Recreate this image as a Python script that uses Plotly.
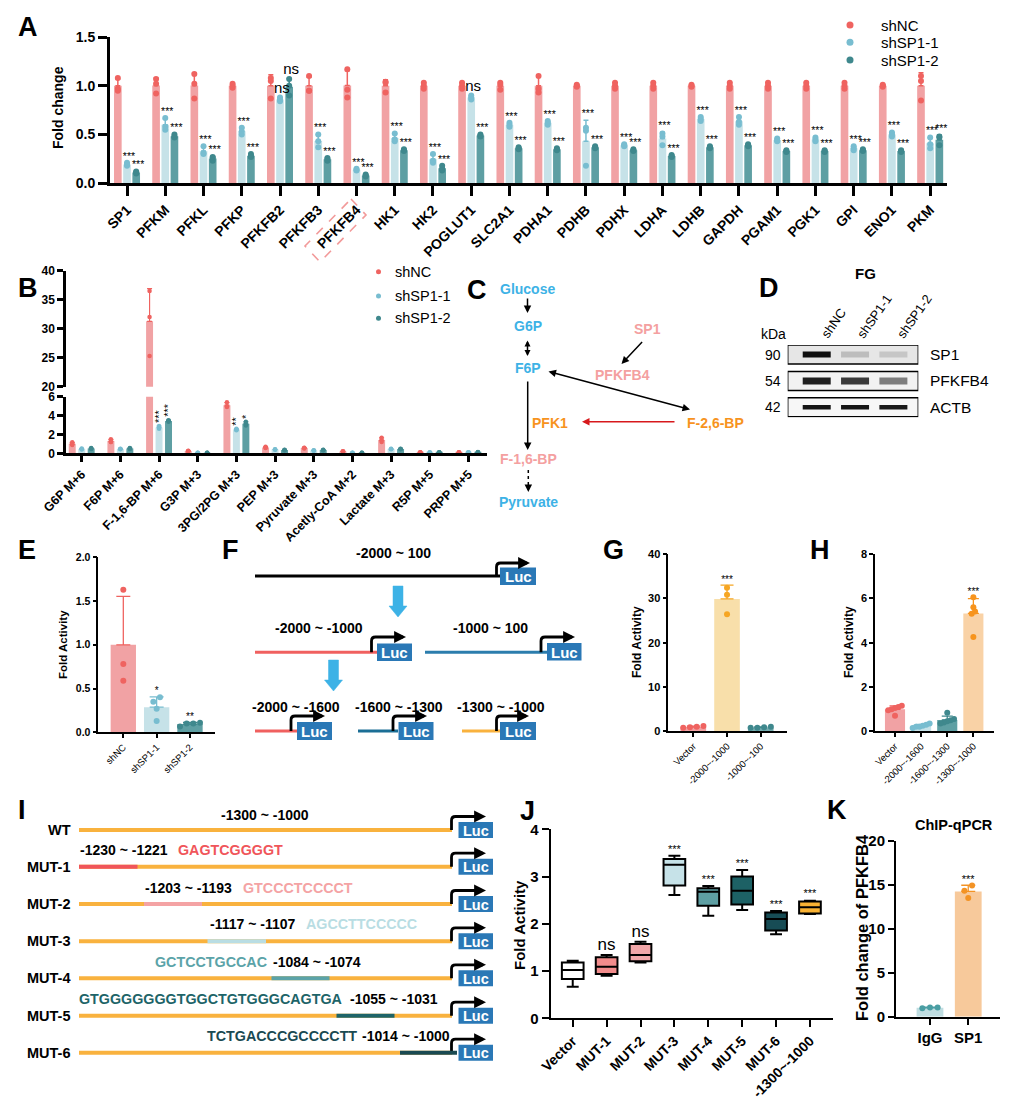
import numpy as np
import plotly.graph_objects as go

W, H = 1010, 1101
FONT = "Liberation Sans, Arial, Helvetica, sans-serif"

# ======================= DATA =======================
series_names = ["shNC", "shSP1-1", "shSP1-2"]

# ---- Panel A (qPCR fold change, 3 replicates each) ----
genes_A = ["SP1", "PFKM", "PFKL", "PFKP", "PFKFB2", "PFKFB3", "PFKFB4", "HK1", "HK2",
           "POGLUT1", "SLC2A1", "PDHA1", "PDHB", "PDHX", "LDHA", "LDHB", "GAPDH",
           "PGAM1", "PGK1", "GPI", "ENO1", "PKM"]
a_shNC = [[1.08, 0.97, 0.95], [1.07, 1.02, 0.92], [1.12, 1.02, 0.87], [1.02, 1.00, 0.98],
          [1.08, 1.05, 0.87], [1.10, 0.95, 0.95], [1.17, 0.96, 0.88], [1.04, 1.03, 0.93],
          [1.03, 1.00, 0.97], [1.03, 1.00, 0.97], [1.03, 1.01, 0.96], [1.10, 0.97, 0.93],
          [1.01, 1.00, 0.99], [1.03, 1.00, 0.97], [1.03, 1.00, 0.97], [1.01, 1.00, 0.99],
          [1.03, 1.00, 0.97], [1.03, 1.00, 0.97], [1.03, 1.00, 0.97], [1.03, 1.00, 0.97],
          [1.01, 1.00, 0.99], [1.10, 1.05, 0.85]]
a_shSP1_1 = [[0.21, 0.19, 0.18], [0.67, 0.58, 0.55], [0.38, 0.31, 0.30], [0.57, 0.53, 0.50],
             [0.88, 0.86, 0.84], [0.50, 0.43, 0.37], [0.15, 0.14, 0.13], [0.51, 0.45, 0.43],
             [0.30, 0.23, 0.21], [0.90, 0.88, 0.86], [0.62, 0.60, 0.58], [0.64, 0.62, 0.60],
             [0.57, 0.54, 0.18], [0.40, 0.39, 0.38], [0.51, 0.48, 0.39], [0.68, 0.66, 0.64],
             [0.68, 0.63, 0.60], [0.46, 0.44, 0.43], [0.47, 0.45, 0.43], [0.38, 0.36, 0.34],
             [0.52, 0.50, 0.48], [0.47, 0.40, 0.36]]
a_shSP1_2 = [[0.12, 0.11, 0.10], [0.50, 0.48, 0.47], [0.27, 0.26, 0.23], [0.30, 0.28, 0.27],
             [1.07, 1.00, 0.90], [0.26, 0.25, 0.23], [0.09, 0.08, 0.07], [0.35, 0.34, 0.33],
             [0.18, 0.15, 0.13], [0.50, 0.49, 0.48], [0.37, 0.36, 0.35], [0.36, 0.35, 0.34],
             [0.38, 0.37, 0.36], [0.35, 0.34, 0.33], [0.29, 0.28, 0.27], [0.38, 0.37, 0.36],
             [0.40, 0.39, 0.38], [0.34, 0.33, 0.32], [0.34, 0.33, 0.32], [0.35, 0.34, 0.33],
             [0.34, 0.33, 0.32], [0.48, 0.47, 0.39]]
sig_A_1 = ["***", "***", "***", "***", "ns", "***", "***", "***", "***", "ns", "***",
           "***", "***", "***", "***", "***", "***", "***", "***", "***", "***", "***"]
sig_A_2 = ["***", "***", "***", "***", "ns", "***", "***", "***", "***", "***", "***",
           "***", "***", "***", "***", "***", "***", "***", "***", "***", "***", "***"]

# ---- Panel B (isotope tracing, broken axis) ----
mets_B = ["G6P M+6", "F6P M+6", "F-1,6-BP M+6", "G3P M+3", "3PG/2PG M+3", "PEP M+3",
          "Pyruvate M+3", "Acetly-CoA M+2", "Lactate M+3", "R5P M+5", "PRPP M+5"]
b_shNC = [[1.17, 0.95, 0.88], [1.50, 1.20, 1.20], [36.5, 32.0, 25.3], [0.28, 0.25, 0.22],
          [5.40, 5.00, 4.90], [0.70, 0.60, 0.55], [0.60, 0.55, 0.50], [0.22, 0.20, 0.18],
          [1.65, 1.35, 1.20], [0.12, 0.10, 0.08], [0.12, 0.10, 0.08]]
b_shSP1_1 = [[0.50, 0.45, 0.40], [0.48, 0.45, 0.42], [2.90, 2.70, 2.60], [0.06, 0.05, 0.04],
             [2.60, 2.50, 2.45], [0.42, 0.40, 0.38], [0.32, 0.30, 0.28], [0.06, 0.05, 0.04],
             [0.48, 0.45, 0.42], [0.10, 0.08, 0.06], [0.12, 0.10, 0.08]]
b_shSP1_2 = [[0.55, 0.50, 0.45], [0.55, 0.50, 0.45], [3.50, 3.45, 3.35], [0.06, 0.05, 0.04],
             [3.35, 3.10, 2.95], [0.37, 0.35, 0.33], [0.37, 0.35, 0.33], [0.06, 0.05, 0.04],
             [0.48, 0.45, 0.42], [0.12, 0.10, 0.08], [0.14, 0.12, 0.10]]
sig_B_1 = ["", "", "***", "", "**", "", "", "", "", "", ""]
sig_B_2 = ["", "", "***", "", "*", "", "", "", "", "", ""]

# ---- Panel D (western blot band intensities) ----
blot_rows = ["SP1", "PFKFB4", "ACTB"]
blot_kda = ["90", "54", "42"]
blot_lanes = ["shNC", "shSP1-1", "shSP1-2"]
blot_intensity = [[1.00, 0.18, 0.14], [0.92, 0.80, 0.48], [0.97, 0.97, 0.95]]

# ---- Panel E ----
e_groups = ["shNC", "shSP1-1", "shSP1-2"]
e_vals = [[1.63, 0.78, 0.59], [0.40, 0.35, 0.27, 0.13], [0.11, 0.10, 0.10, 0.065]]
e_sig = ["", "*", "**"]

# ---- Panel G ----
g_groups = ["Vector", "-2000~-1000", "-1000~-100"]
g_vals = [[1.2, 1.0, 0.9, 0.8], [32.4, 30.8, 26.4], [1.0, 0.9, 0.8, 0.8]]
g_sig = ["", "***", ""]

# ---- Panel H ----
h_groups = ["Vector", "-2000~-1600", "-1600~-1300", "-1300~-1000"]
h_vals = [[1.15, 1.10, 1.05, 1.00, 0.95, 0.70], [0.35, 0.30, 0.25, 0.20, 0.15, 0.20],
          [0.84, 0.55, 0.50, 0.45, 0.40, 0.35], [6.05, 5.60, 5.40, 5.30, 4.25]]
h_sig = ["", "", "", "***"]

# ---- Panel J (box plots) ----
j_groups = ["Vector", "MUT-1", "MUT-2", "MUT-3", "MUT-4", "MUT-5", "MUT-6", "-1300~-1000"]
j_min = [0.67, 0.90, 1.18, 2.61, 2.17, 2.29, 1.78, 2.21]
j_q1 = [0.83, 0.94, 1.21, 2.81, 2.38, 2.41, 1.86, 2.22]
j_med = [1.02, 1.09, 1.34, 3.25, 2.68, 2.70, 2.10, 2.35]
j_q3 = [1.18, 1.29, 1.57, 3.37, 2.75, 3.00, 2.24, 2.47]
j_max = [1.22, 1.34, 1.62, 3.44, 2.80, 3.14, 2.27, 2.49]
j_sig = ["", "ns", "ns", "***", "***", "***", "***", "***"]

# ---- Panel K ----
k_groups = ["IgG", "SP1"]
k_vals = [[1.05, 1.05, 0.95], [14.9, 14.3, 13.5]]
k_sig = ["", "***"]

# ======================= STYLE =======================
NC_BAR, NC_DOT = "#F1A2A4", "#EF6360"
S1_BAR, S1_DOT = "#C6E2E8", "#78BDD0"
S2_BAR, S2_DOT = "#5E9FA3", "#3F888D"
BLUE_T = "#3DB2E6"
PINK_T = "#F4A0A0"
ORANGE_T = "#F7931E"
LUC = "#2A78B6"
ORANGE_L = "#F9B23E"

fig = go.Figure()
shapes, anns = [], []


def xd(a, b):
    return [a / W, b / W]


def yd(t, b):
    return [1 - b / H, 1 - t / H]


def axis(dom, rng, anchor, lw=1.5, tl=5, fs=11, bold=True, tickvals=None, ticktext=None,
         angle=None, fmt=None, visible=True):
    d = dict(domain=dom, range=rng, anchor=anchor, showline=True, linecolor="black",
             linewidth=lw, ticks="outside", ticklen=tl, tickwidth=lw, tickcolor="black",
             showgrid=False, zeroline=False, fixedrange=True, visible=visible, automargin=False,
             tickfont=dict(family=FONT, size=fs, color="black",
                           weight="bold" if bold else "normal"))
    if tickvals is not None:
        d["tickmode"] = "array"
        d["tickvals"] = tickvals
    if ticktext is not None:
        d["ticktext"] = ticktext
    if angle is not None:
        d["tickangle"] = angle
    if fmt:
        d["tickformat"] = fmt
    return d


def txt(x, y, s, size, color="black", bold=True, xa="center", ya="middle", angle=0):
    anns.append(dict(x=x, y=y, xref="x10", yref="y10", text=s, showarrow=False,
                     font=dict(family=FONT, size=size, color=color,
                               weight="bold" if bold else "normal"),
                     xanchor=xa, yanchor=ya, textangle=angle))


def arrow(x0, y0, x1, y1, color="black", w=1.5, size=1.2, both=False, head=2):
    d = dict(x=x1, y=y1, ax=x0, ay=y0, xref="x10", yref="y10", axref="x10", ayref="y10",
             text="", showarrow=True, arrowhead=head, arrowsize=size, arrowwidth=w,
             arrowcolor=color, standoff=0)
    if both:
        d.update(arrowside="end+start", startarrowhead=head, startarrowsize=size, startstandoff=0)
    anns.append(d)


def sline(x0, y0, x1, y1, color, w, dash="solid"):
    shapes.append(dict(type="line", xref="x10", yref="y10", x0=x0, y0=y0, x1=x1, y1=y1,
                       line=dict(color=color, width=w, dash=dash), layer="above"))


def srect(x0, y0, x1, y1, fill, lc="rgba(0,0,0,0)", lw=0):
    shapes.append(dict(type="rect", xref="x10", yref="y10", x0=x0, y0=y0, x1=x1, y1=y1,
                       fillcolor=fill, line=dict(color=lc, width=lw), layer="above"))


def spath(d, color, w, fill="rgba(0,0,0,0)", dash="solid"):
    shapes.append(dict(type="path", xref="x10", yref="y10", path=d, fillcolor=fill,
                       line=dict(color=color, width=w, dash=dash), layer="above"))


def swarm(vals, thr, step):
    vals = np.asarray(vals, dtype=float)
    order = np.argsort(vals)
    offs = np.zeros(len(vals))
    clusters, cur = [], [order[0]]
    for a, b in zip(order[:-1], order[1:]):
        if vals[b] - vals[a] < thr:
            cur.append(b)
        else:
            clusters.append(cur)
            cur = [b]
    clusters.append(cur)
    for c in clusters:
        m = len(c)
        for k, i in enumerate(c):
            offs[i] = (k - (m - 1) / 2) * step
    return offs


def manual_legend(x_dot, x_text, ys, size, fs):
    fig.add_trace(go.Scatter(x=[x_dot] * 3, y=ys, mode="markers",
                             marker=dict(size=size, color=[NC_DOT, S1_DOT, S2_DOT]),
                             xaxis="x10", yaxis="y10", showlegend=False, hoverinfo="skip"))
    for y, nm in zip(ys, series_names):
        txt(x_text, y, nm, fs, bold=False, xa="left")


# ======================= PANEL A =======================
idxA = np.arange(len(genes_A))
offA = [-0.24, 0.0, 0.24]
repsA = [a_shNC, a_shSP1_1, a_shSP1_2]
barc = [NC_BAR, S1_BAR, S2_BAR]
dotc = [NC_DOT, S1_DOT, S2_DOT]
for s in range(3):
    reps = repsA[s]
    m = np.array([np.mean(r) for r in reps])
    sd = np.array([np.std(r, ddof=1) for r in reps])
    fig.add_trace(go.Bar(x=idxA + offA[s], y=m, width=0.2, marker=dict(color=barc[s], line_width=0),
                         error_y=dict(type="data", array=sd, arrayminus=np.zeros(len(m)),
                                      symmetric=False, color=dotc[s], thickness=1.5, width=2.5),
                         xaxis="x", yaxis="y", showlegend=False, hoverinfo="skip"))
for s in range(3):
    reps = repsA[s]
    xs = np.concatenate([[i + offA[s]] * len(r) for i, r in enumerate(reps)])
    ys = np.concatenate(reps)
    fig.add_trace(go.Scatter(x=xs, y=ys, mode="markers", name=series_names[s],
                             marker=dict(size=6, color=dotc[s]), xaxis="x", yaxis="y",
                             showlegend=False, cliponaxis=False, hoverinfo="skip"))
for s, sig in [(1, sig_A_1), (2, sig_A_2)]:
    reps = repsA[s]
    tops = [max(max(r), np.mean(r) + np.std(r, ddof=1)) for r in reps]
    fig.add_trace(go.Scatter(x=idxA + offA[s] + 0.05, y=np.array(tops) + 0.005, mode="text", text=sig,
                             textposition="top center",
                             textfont=dict(family=FONT, color="black",
                                           size=[15 if t == "ns" else 10.5 for t in sig]),
                             xaxis="x", yaxis="y", showlegend=False, cliponaxis=False,
                             hoverinfo="skip"))
manual_legend(850, 879, [25, 42.3, 60], 7, 15)

# ======================= PANEL B =======================
idxB = np.arange(len(mets_B))
offB = [-0.245, 0.0, 0.245]
repsB = [b_shNC, b_shSP1_1, b_shSP1_2]
for xa, ya in [("x2", "y2"), ("x3", "y3")]:
    for s in range(3):
        reps = repsB[s]
        m = np.array([np.mean(r) for r in reps])
        sd = np.array([np.std(r, ddof=1) for r in reps])
        fig.add_trace(go.Bar(x=idxB + offB[s], y=m, width=0.18, marker=dict(color=barc[s], line_width=0),
                             error_y=dict(type="data", array=sd, arrayminus=np.zeros(len(m)),
                                          symmetric=False, color=dotc[s], thickness=1.2, width=2.5),
                             xaxis=xa, yaxis=ya, showlegend=False, hoverinfo="skip"))
    for s in range(3):
        reps = repsB[s]
        xs = np.concatenate([[i + offB[s]] * len(r) for i, r in enumerate(reps)])
        ys = np.concatenate(reps)
        fig.add_trace(go.Scatter(x=xs, y=ys, mode="markers", name=series_names[s],
                                 marker=dict(size=4.5, color=dotc[s]), xaxis=xa, yaxis=ya,
                                 showlegend=False, hoverinfo="skip"))
for s, sig in [(1, sig_B_1), (2, sig_B_2)]:
    for i, t in enumerate(sig):
        if t:
            r = repsB[s][i]
            top = max(max(r), np.mean(r) + np.std(r, ddof=1))
            anns.append(dict(x=i + offB[s], y=top, xref="x2", yref="y2", text=t, showarrow=False,
                             textangle=-90, yanchor="bottom", xanchor="center", yshift=1,
                             font=dict(family=FONT, size=11, color="black")))
manual_legend(378.5, 393, [271.7, 296, 318.3], 5, 14.5)

# ======================= PANEL D (blot) =======================
blot_thick = [6, 7, 4.5]
for r, row in enumerate(blot_rows):
    inten = np.array(blot_intensity[r])
    cols = ["rgb({0},{0},{0})".format(int(228 - 212 * v)) for v in inten]
    fig.add_trace(go.Scatter(x=np.arange(len(blot_lanes)), y=[r] * len(blot_lanes), mode="markers",
                             marker=dict(symbol="line-ew", size=20,
                                         line=dict(width=blot_thick[r], color=cols)),
                             xaxis="x4", yaxis="y4", showlegend=False, hoverinfo="skip"))
    shapes.append(dict(type="rect", xref="x4", yref="y4", x0=-0.757, x1=2.65, y0=r - 0.36, y1=r + 0.36,
                       fillcolor=["#e6e6e6", "#f2f2f2", "#f7f7f7"][r],
                       line=dict(color="black", width=1.5), layer="below"))


# ======================= BAR PANELS (E, G, H, K) =======================
def bar_panel(vals_list, xa, ya, bar_cols, dot_cols, width, thr, step, sig, ebw, dsize=6, ssize=10):
    for i, vals in enumerate(vals_list):
        m = np.mean(vals)
        sd = np.std(vals, ddof=1)
        fig.add_trace(go.Bar(x=[i], y=[m], width=width, marker=dict(color=bar_cols[i], line_width=0),
                             error_y=dict(type="data", array=[sd], arrayminus=[0], symmetric=False,
                                          color=dot_cols[i], thickness=1.3, width=ebw),
                             xaxis=xa, yaxis=ya, showlegend=False, hoverinfo="skip"))
        offs = swarm(vals, thr, step)
        fig.add_trace(go.Scatter(x=i + offs, y=vals, mode="markers",
                                 marker=dict(size=dsize, color=dot_cols[i]), xaxis=xa, yaxis=ya,
                                 showlegend=False, cliponaxis=False, hoverinfo="skip"))
        if sig[i]:
            top = max(max(vals), m + sd)
            fig.add_trace(go.Scatter(x=[i], y=[top], mode="text", text=[sig[i]], textposition="top center",
                                     textfont=dict(family=FONT, size=ssize, color="black"),
                                     xaxis=xa, yaxis=ya, showlegend=False, cliponaxis=False,
                                     hoverinfo="skip"))


bar_panel(e_vals, "x5", "y5", [NC_BAR, S1_BAR, S2_BAR], [NC_DOT, S1_DOT, S2_DOT], 0.76, 0.06, 0.2,
          e_sig, 7)
bar_panel(g_vals, "x6", "y6", [NC_BAR, "#F8DFAA", "#76ACAF"], [NC_DOT, "#F6A623", S2_DOT], 0.76, 1.2,
          0.2, g_sig, 6.5)
bar_panel(h_vals, "x7", "y7", [NC_BAR, S1_BAR, S2_BAR, "#F9D2A6"], [NC_DOT, S1_DOT, S2_DOT, "#F7941D"],
          0.77, 0.12, 0.13, h_sig, 5.5)
bar_panel(k_vals, "x9", "y9", ["#BFDDE1", "#F7C99B"], ["#4A9EA3", "#F39325"], 0.7, 0.8, 0.2, k_sig, 7,
          ssize=11)

# ======================= PANEL J (boxes) =======================
j_fill = ["#FFFFFF", "#F28C8C", "#F2A7A9", "#C6E2E8", "#5E9FA3", "#1D6165", "#174C55", "#F9B233"]
for i in range(len(j_groups)):
    fig.add_trace(go.Box(x=[i], q1=[j_q1[i]], median=[j_med[i]], q3=[j_q3[i]],
                         lowerfence=[j_min[i]], upperfence=[j_max[i]], fillcolor=j_fill[i],
                         line=dict(color="black", width=2), width=0.64, whiskerwidth=0.55,
                         boxpoints=False, xaxis="x8", yaxis="y8", showlegend=False, hoverinfo="skip"))
fig.add_trace(go.Scatter(x=np.arange(len(j_groups)), y=np.array(j_max) + 0.01, mode="text", text=j_sig,
                         textposition="top center",
                         textfont=dict(family=FONT, color="black",
                                       size=[17 if t == "ns" else 11 for t in j_sig]),
                         xaxis="x8", yaxis="y8", showlegend=False, cliponaxis=False, hoverinfo="skip"))

# ======================= DIAGRAMS (pixel overlay) =======================
for L, x, y in [("A", 28, 27), ("B", 28, 288), ("C", 477, 290), ("D", 769, 288), ("E", 27, 550),
                ("F", 230, 550), ("G", 613, 550), ("H", 820, 550), ("I", 22, 810), ("J", 527, 811),
                ("K", 837, 810)]:
    txt(x, y, L, 27)

txt(58, 108, "Fold change", 14, angle=-90)
txt(63, 645, "Fold Activity", 11.5, angle=-90)
txt(637, 642, "Fold Activity", 12, angle=-90)
txt(849, 642, "Fold Activity", 12, angle=-90)
txt(519, 925, "Fold Activity", 15, angle=-90)
txt(862, 928, "Fold change of PFKFB4", 16.5, angle=-90)
txt(954, 825, "ChIP-qPCR", 14.5)

spath("M 351,199 L 366,215 L 320,262 L 305,246 Z", "#F29A9A", 1.6, dash="dash")

# ---- Panel C: pathway ----
txt(527, 289, "Glucose", 14, BLUE_T)
txt(528, 326, "G6P", 14, BLUE_T)
txt(528, 368, "F6P", 14, BLUE_T)
txt(647, 329, "SP1", 14, PINK_T)
txt(622, 375, "PFKFB4", 14, PINK_T)
txt(715, 423, "F-2,6-BP", 14, ORANGE_T)
txt(550, 423, "PFK1", 14, ORANGE_T)
txt(528, 459, "F-1,6-BP", 14, PINK_T)
txt(528, 502, "Pyruvate", 14, BLUE_T)
arrow(527.5, 297, 527.5, 313, size=1.0)
arrow(527.5, 339, 527.5, 356, both=True, size=0.8)
arrow(643.5, 340.5, 621.5, 364, size=1.0)
arrow(547, 371, 690, 409.5, both=True, size=1.0)
arrow(676, 421.7, 582, 421.7, color="#D7191C", size=1.0)
arrow(527.7, 380, 527.7, 450, size=1.0)
sline(528.3, 470, 528.3, 487, "black", 1.5, dash="dot")
arrow(528.3, 485, 528.3, 492, size=1.0)

# ---- Panel D labels ----
txt(865, 273, "FG", 15)
txt(773, 334, "kDa", 14, bold=False)
for (cx, cy), lab in zip([(833, 323), (874, 316), (914, 316)], blot_lanes):
    txt(cx, cy, lab, 13, bold=False, angle=-55)
for cy, kd, lab in zip([354.5, 380.8, 407.3], blot_kda, blot_rows):
    txt(783, cy, kd, 14, bold=False, xa="right")
    txt(928, cy, lab, 15.5, bold=False, xa="left")


# ---- Panel F: promoter constructs ----
def luc(x0, y0, x1, y1, fs=15):
    srect(x0, y0, x1, y1, LUC)
    txt((x0 + x1) / 2, (y0 + y1) / 2 + 0.5, "Luc", fs, "white")


def bent(xv, yb, yt, xe, w=2.8):
    r = 4
    spath("M {0},{1} L {0},{2} Q {0},{3} {4},{3} L {5},{3}".format(xv, yb, yt + r, yt, xv + r, xe - 4),
          "black", w)
    arrow(xe - 7, yt, xe, yt, w=w, size=0.85)


def blue_arrow(x, y0, y1):
    spath("M {a},{y0} L {b},{y0} L {b},{yh} L {c},{yh} L {x},{y1} L {d},{yh} L {a},{yh} Z".format(
        a=x - 5, b=x + 5, c=x + 9, d=x - 9, x=x, y0=y0, y1=y1, yh=y1 - 11), BLUE_T, 0.5, fill=BLUE_T)


txt(393, 553, "-2000 ~ 100", 14)
sline(255, 576, 500, 576, "black", 3)
bent(496.5, 576, 563, 530)
luc(500, 567.5, 536, 585)
blue_arrow(398, 586, 617)

txt(319, 628, "-2000 ~ -1000", 14)
sline(255, 652.3, 377, 652.3, "#F0605F", 3)
bent(371.5, 652.3, 637, 406)
luc(377, 643.5, 412, 661)
txt(490, 628, "-1000 ~ 100", 14)
sline(425, 652.3, 547, 652.3, "#2B7DAD", 3)
bent(541, 652.3, 637, 575)
luc(547, 643, 581.5, 660.5)
blue_arrow(333.5, 660, 691)

txt(296, 707, "-2000 ~ -1600", 14)
txt(399, 707, "-1600 ~ -1300", 14)
txt(501, 707, "-1300 ~ -1000", 14)
sline(255, 731, 297, 731, "#F0605F", 3)
bent(291, 731, 716, 325)
luc(297, 722, 332, 740)
sline(358, 731, 398, 731, "#1B6E95", 3)
bent(393, 731, 716, 427)
luc(398.5, 722, 433.5, 740)
sline(462, 731, 500, 731, ORANGE_L, 3)
bent(496.5, 731, 716, 529)
luc(500, 722, 536, 740)

# ---- Panel I: mutation constructs ----
row_lab = ["WT", "MUT-1", "MUT-2", "MUT-3", "MUT-4", "MUT-5", "MUT-6"]
row_y = [830, 866.7, 904, 941.3, 978.3, 1015.7, 1052.7]
for lab, y in zip(row_lab, row_y):
    txt(73, y, lab, 14.5, xa="right")
    sline(79, y, 452, y, ORANGE_L, 4)
    bent(451.5, y, y - 13.5, 486)
    luc(458.5, y - 8, 493, y + 8, fs=14.5)
seg = [(79, 137.5, "#F0555A"), (144, 202, "#F4A3A4"), (207.5, 266, "#B9DDE3"),
       (271.5, 329.5, "#5BA3A8"), (336.5, 394.5, "#1D6468"), (400, 457, "#1A4A52")]
for (x0, x1, c), y in zip(seg, row_y[1:]):
    sline(x0, y, x1, y, c, 4)
txt(265, 815, "-1300 ~ -1000", 14)
txt(78, 850, "-1230 ~ -1221", 14, xa="left")
txt(176, 850, "GAGTCGGGGT", 14.3, "#F0555A", xa="left")
txt(143, 887.5, "-1203 ~ -1193", 14, xa="left")
txt(241, 887.5, "GTCCCTCCCCT", 14.3, "#F4A3A4", xa="left")
txt(208, 924, "-1117 ~ -1107", 14, xa="left")
txt(304, 924, "AGCCTTCCCCC", 14.3, "#B9DDE3", xa="left")
txt(153, 961.5, "GCTCCTGCCAC", 14.3, "#5BA3A8", xa="left")
txt(271, 961.5, "-1084 ~ -1074", 14, xa="left")
txt(77, 998.5, "GTGGGGGGGTGGCTGTGGGCAGTGA", 14.3, "#1D6468", xa="left")
txt(347.5, 998.5, "-1055 ~ -1031", 14, xa="left")
txt(205, 1036, "TCTGACCCGCCCCTT", 14.3, "#1A4A52", xa="left")
txt(359.5, 1036, "-1014 ~ -1000", 14, xa="left")

# ======================= LAYOUT =======================
layout = dict(
    width=W, height=H, margin=dict(l=0, r=0, t=0, b=0, pad=0, autoexpand=False),
    paper_bgcolor="white", plot_bgcolor="rgba(0,0,0,0)", barmode="overlay", boxmode="overlay",
    showlegend=False, font=dict(family=FONT, color="black"),
    xaxis=axis(xd(110, 947), [-0.445, 21.44], "y", lw=3, tl=10, fs=14, tickvals=list(idxA),
               ticktext=genes_A, angle=-45),
    yaxis=axis(yd(37, 183.3), [0, 1.5], "x", lw=3, tl=9, fs=14, tickvals=[0, 0.5, 1, 1.5], fmt=".1f"),
    xaxis2=axis(xd(66, 487), [-0.406, 10.48], "y2", lw=2.5, tl=6, fs=12.5, tickvals=list(idxB),
                ticktext=mets_B, angle=-45),
    yaxis2=axis(yd(396.7, 453.3), [0, 6], "x2", lw=2.5, tl=6, fs=12, tickvals=[0, 2, 4, 6]),
    xaxis3=dict(domain=xd(66, 487), range=[-0.406, 10.48], anchor="y3", visible=False, fixedrange=True),
    yaxis3=axis(yd(270.7, 386.7), [20, 40], "x3", lw=2.5, tl=6, fs=12, tickvals=[20, 25, 30, 35, 40]),
    xaxis4=dict(domain=xd(787.7, 918.3), range=[-0.757, 2.65], anchor="y4", visible=False, fixedrange=True),
    yaxis4=dict(domain=yd(345, 417.3), range=[2.38, -0.36], anchor="x4", visible=False, fixedrange=True),
    xaxis5=axis(xd(98.3, 215), [-0.75, 2.75], "y5", lw=1.5, tl=4, fs=9.5, bold=False,
                tickvals=[0, 1, 2], ticktext=e_groups, angle=-45),
    yaxis5=axis(yd(557.3, 732.3), [0, 2], "x5", lw=1.5, tl=4, fs=10.5, tickvals=[0, 0.5, 1, 1.5, 2],
                fmt=".1f"),
    xaxis6=axis(xd(668.3, 786.7), [-0.742, 2.77], "y6", lw=1.5, tl=4, fs=9.5, bold=False,
                tickvals=[0, 1, 2], ticktext=g_groups, angle=-45),
    yaxis6=axis(yd(554, 731.3), [0, 40], "x6", lw=1.5, tl=4, fs=11, tickvals=[0, 10, 20, 30, 40]),
    xaxis7=axis(xd(875, 994), [-0.766, 3.79], "y7", lw=1.5, tl=4, fs=9.5, bold=False,
                tickvals=[0, 1, 2, 3], ticktext=h_groups, angle=-45),
    yaxis7=axis(yd(554, 731.3), [0, 8], "x7", lw=1.5, tl=4, fs=11, tickvals=[0, 2, 4, 6, 8]),
    xaxis8=axis(xd(550.7, 833), [-0.65, 7.68], "y8", lw=2, tl=7, fs=14, tickvals=list(range(8)),
                ticktext=j_groups, angle=-45),
    yaxis8=axis(yd(829.3, 1018.3), [0, 4], "x8", lw=2, tl=7, fs=15, tickvals=[0, 1, 2, 3, 4]),
    xaxis9=axis(xd(896, 1000), [-0.888, 1.83], "y9", lw=2, tl=6, fs=15, tickvals=[0, 1],
                ticktext=k_groups),
    yaxis9=axis(yd(840.7, 1016.7), [0, 20], "x9", lw=2, tl=6, fs=15, tickvals=[0, 5, 10, 15, 20]),
    xaxis10=dict(domain=[0, 1], range=[0, W], anchor="y10", visible=False, fixedrange=True),
    yaxis10=dict(domain=[0, 1], range=[H, 0], anchor="x10", visible=False, fixedrange=True),
    shapes=shapes, annotations=anns,
)
fig.update_layout(**layout)
fig.write_html("out.html", config={"displayModeBar": False},
               post_script="document.body.style.margin='0px';document.body.style.overflow='hidden';")
